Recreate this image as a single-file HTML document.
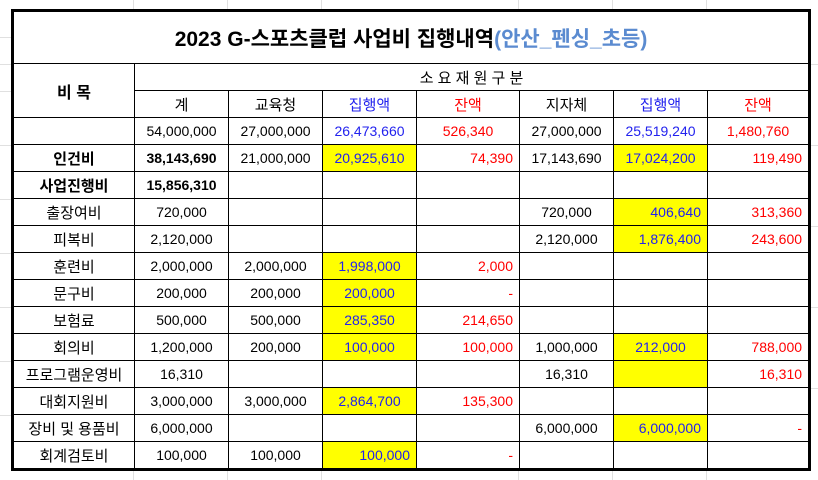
<!DOCTYPE html>
<html><head><meta charset="utf-8"><style>
body{margin:0;width:818px;height:480px;background:#fff;position:relative;overflow:hidden;font-family:"Liberation Sans","Noto Sans CJK KR",sans-serif;}
.g{position:absolute;background:#e0e0e0;}
table{position:absolute;left:11px;top:9px;border-collapse:collapse;table-layout:fixed;font-size:14px;}
td{border:1px solid #000;height:26px;padding:0 6px;text-align:center;white-space:nowrap;overflow:hidden;color:#000;background:#fff;}
.k{font-size:15px}
.r{text-align:right}.b{font-weight:bold}.bl{color:#2222ee}.rd{color:#ff0000}.y{background:#ffff00}
.title{height:51px;font-size:21px;font-weight:bold;}
</style></head><body>
<div class="g" style="left:0;top:37px;width:11px;height:1px"></div>
<div class="g" style="left:0;top:64px;width:11px;height:1px"></div>
<div class="g" style="left:0;top:91px;width:11px;height:1px"></div>
<div class="g" style="left:0;top:145px;width:11px;height:1px"></div>
<div class="g" style="left:0;top:199px;width:11px;height:1px"></div>
<div class="g" style="left:0;top:253px;width:11px;height:1px"></div>
<div class="g" style="left:0;top:307px;width:11px;height:1px"></div>
<div class="g" style="left:0;top:361px;width:11px;height:1px"></div>
<div class="g" style="left:0;top:415px;width:11px;height:1px"></div>
<div class="g" style="left:810px;top:64px;width:8px;height:1px"></div>
<div class="g" style="left:810px;top:145px;width:8px;height:1px"></div>
<div class="g" style="left:810px;top:226px;width:8px;height:1px"></div>
<div class="g" style="left:810px;top:307px;width:8px;height:1px"></div>
<div class="g" style="left:810px;top:388px;width:8px;height:1px"></div>
<div class="g" style="left:133px;top:0;width:1px;height:9px"></div>
<div class="g" style="left:227px;top:0;width:1px;height:9px"></div>
<div class="g" style="left:321px;top:0;width:1px;height:9px"></div>
<div class="g" style="left:518px;top:0;width:1px;height:9px"></div>
<div class="g" style="left:612px;top:0;width:1px;height:9px"></div>
<div class="g" style="left:706px;top:0;width:1px;height:9px"></div>
<div class="g" style="left:133px;top:471px;width:1px;height:9px"></div>
<div class="g" style="left:227px;top:471px;width:1px;height:9px"></div>
<div class="g" style="left:321px;top:471px;width:1px;height:9px"></div>
<div class="g" style="left:518px;top:471px;width:1px;height:9px"></div>
<div class="g" style="left:612px;top:471px;width:1px;height:9px"></div>
<div class="g" style="left:706px;top:471px;width:1px;height:9px"></div>
<table style="border:3px solid #000;width:799px">
<colgroup><col style="width:122px"><col style="width:94px"><col style="width:94px"><col style="width:94px"><col style="width:103px"><col style="width:94px"><col style="width:94px"><col style="width:102px"></colgroup>
<tr><td colspan="8" class="title">2023 G-스포츠클럽 사업비 집행내역<span style="color:#5b8bd0">(안산_펜싱_초등)</span></td></tr>
<tr><td rowspan="2" class="b" style="font-size:16px">비 목</td><td colspan="7" class="k">소 요 재 원 구 분</td></tr>
<tr class="k"><td>계</td><td>교육청</td><td class="bl">집행액</td><td class="rd">잔액</td><td>지자체</td><td class="bl">집행액</td><td class="rd">잔액</td></tr>
<tr><td></td><td>54,000,000</td><td>27,000,000</td><td class="bl">26,473,660</td><td class="rd">526,340</td><td>27,000,000</td><td class="bl">25,519,240</td><td class="rd">1,480,760</td></tr>
<tr><td class="b k">인건비</td><td class="b">38,143,690</td><td>21,000,000</td><td class="bl y">20,925,610</td><td class="rd r">74,390</td><td>17,143,690</td><td class="bl y">17,024,200</td><td class="rd r">119,490</td></tr>
<tr><td class="b k">사업진행비</td><td class="b">15,856,310</td><td></td><td></td><td></td><td></td><td></td><td></td></tr>
<tr><td class="k">출장여비</td><td>720,000</td><td></td><td></td><td></td><td>720,000</td><td class="bl y r">406,640</td><td class="rd r">313,360</td></tr>
<tr><td class="k">피복비</td><td>2,120,000</td><td></td><td></td><td></td><td>2,120,000</td><td class="bl y r">1,876,400</td><td class="rd r">243,600</td></tr>
<tr><td class="k">훈련비</td><td>2,000,000</td><td>2,000,000</td><td class="bl y">1,998,000</td><td class="rd r">2,000</td><td></td><td></td><td></td></tr>
<tr><td class="k">문구비</td><td>200,000</td><td>200,000</td><td class="bl y">200,000</td><td class="rd r">-</td><td></td><td></td><td></td></tr>
<tr><td class="k">보험료</td><td>500,000</td><td>500,000</td><td class="bl y">285,350</td><td class="rd r">214,650</td><td></td><td></td><td></td></tr>
<tr><td class="k">회의비</td><td>1,200,000</td><td>200,000</td><td class="bl y">100,000</td><td class="rd r">100,000</td><td>1,000,000</td><td class="bl y">212,000</td><td class="rd r">788,000</td></tr>
<tr><td class="k">프로그램운영비</td><td>16,310</td><td></td><td></td><td></td><td>16,310</td><td class="y"></td><td class="rd r">16,310</td></tr>
<tr><td class="k">대회지원비</td><td>3,000,000</td><td>3,000,000</td><td class="bl y">2,864,700</td><td class="rd r">135,300</td><td></td><td></td><td></td></tr>
<tr><td class="k">장비 및 용품비</td><td>6,000,000</td><td></td><td></td><td></td><td>6,000,000</td><td class="bl y r">6,000,000</td><td class="rd r">-</td></tr>
<tr><td class="k">회계검토비</td><td>100,000</td><td>100,000</td><td class="bl y r">100,000</td><td class="rd r">-</td><td></td><td></td><td></td></tr>
</table>
</body></html>
